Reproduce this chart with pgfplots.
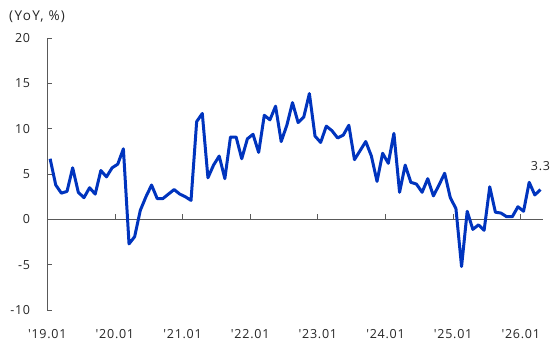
\documentclass[border=0pt]{standalone}
\usepackage{fontspec}
\usepackage{pgfplots}
\usepackage{pgfplotstable}
\pgfplotsset{compat=1.18}

\newfontfamily\chartfont{Open Sans}[LetterSpace=6]
\newfontfamily\unitfont{Open Sans}[LetterSpace=10]
\newcommand\chartsize{\fontsize{12.5bp}{15bp}\selectfont}
\newcommand\unitsize{\fontsize{13.5bp}{16bp}\selectfont}

\definecolor{seriesblue}{RGB}{0,52,190}
\definecolor{axisgray}{RGB}{89,89,89}
\definecolor{labelgray}{RGB}{38,38,38}

% Monthly year-on-year change (%), 2019.01 (idx 0) to 2026.04 (idx 87)
\pgfplotstableread{
idx val
0 6.7
1 3.8
2 2.9
3 3.1
4 5.7
5 3.0
6 2.4
7 3.5
8 2.8
9 5.4
10 4.7
11 5.7
12 6.1
13 7.8
14 -2.7
15 -1.9
16 1.0
17 2.5
18 3.8
19 2.3
20 2.3
21 2.8
22 3.3
23 2.8
24 2.5
25 2.1
26 10.8
27 11.7
28 4.6
29 6.0
30 7.0
31 4.5
32 9.1
33 9.1
34 6.7
35 8.9
36 9.4
37 7.4
38 11.5
39 11.0
40 12.5
41 8.6
42 10.4
43 12.9
44 10.7
45 11.3
46 13.9
47 9.2
48 8.5
49 10.3
50 9.8
51 9.0
52 9.3
53 10.4
54 6.6
55 7.6
56 8.6
57 7.0
58 4.2
59 7.3
60 6.2
61 9.5
62 3.0
63 6.0
64 4.1
65 3.9
66 3.0
67 4.5
68 2.6
69 3.8
70 5.1
71 2.4
72 1.2
73 -5.2
74 0.9
75 -1.1
76 -0.6
77 -1.2
78 3.6
79 0.8
80 0.7
81 0.3
82 0.3
83 1.4
84 0.9
85 4.1
86 2.7
87 3.3
}\yoydata

\begin{document}
\begin{tikzpicture}
\begin{axis}[
  at={(47.3bp,37bp)}, anchor=south west,
  scale only axis, width=496bp, height=271.7bp,
  xmin=-0.5, xmax=87.5, ymin=-10, ymax=20,
  axis x line=middle, axis y line=left,
  hide obscured x ticks=false, hide obscured y ticks=false,
  axis line style={-, draw=axisgray, line width=0.8bp},
  xtick={-0.5,11.5,23.5,35.5,47.5,59.5,71.5,83.5},
  xticklabels={'19.01,'20.01,'21.01,'22.01,'23.01,'24.01,'25.01,'26.01},
  ytick={-10,-5,0,5,10,15,20},
  yticklabels={-10,-5,0,5,10,15,20},
  tick style={draw=axisgray, line width=0.8bp},
  major tick length=5bp,
  tick align=inside,
  ticklabel style={font=\chartfont\chartsize, text=labelgray, inner sep=0pt},
  xticklabel style={anchor=north, yshift=-109.6bp},
  yticklabel style={anchor=east, xshift=-17bp},
  clip=false,
]
\addplot[seriesblue, line width=3bp, line join=round] table[x=idx, y=val] {\yoydata};
\node[font=\chartfont\chartsize, text=labelgray, anchor=south, inner sep=0pt,
      yshift=19bp] at (axis cs:87,3.3) {3.3};
\end{axis}
\node[font=\unitfont\unitsize, text=labelgray, anchor=west, inner sep=0pt]
  at (9bp,330bp) {(YoY, \%)};
\pgfresetboundingbox
\useasboundingbox (0,0) rectangle (553bp,347bp);
\end{tikzpicture}
\end{document}
